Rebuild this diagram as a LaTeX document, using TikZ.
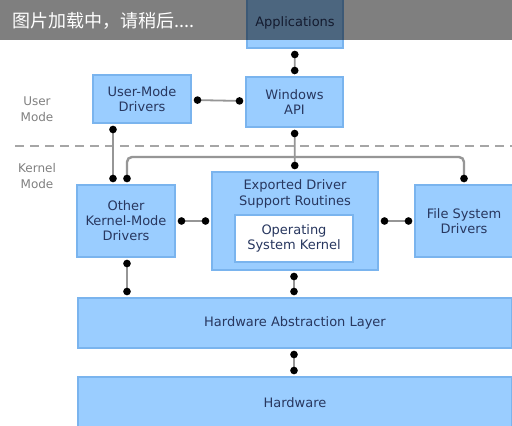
\documentclass[tikz,border=0pt]{standalone}
\usepackage{fontspec}
\setmainfont{DejaVu Sans}
\newfontfamily\cjk{Noto Sans CJK SC}
\usetikzlibrary{arrows.meta}

\definecolor{boxfill}{RGB}{154,205,255}
\definecolor{boxline}{RGB}{122,180,238}
\definecolor{boxtext}{RGB}{40,55,95}
\definecolor{wire}{RGB}{150,150,150}

\tikzset{
  layer/.style={draw=boxline, line width=1.5pt, fill=boxfill, text=boxtext,
    align=center, font=\fontsize{13}{15}\selectfont, inner sep=0pt},
  kernelbox/.style={layer, fill=white},
  modelabel/.style={text=gray, align=center, font=\fontsize{12}{16}\selectfont},
  link/.style={wire, line width=1.8pt, {Circle[length=7.5pt,black]}-{Circle[length=7.5pt,black]},
    shorten <=2pt, shorten >=2pt},
  bus/.style={wire, line width=2.4pt, rounded corners=5pt, -{Circle[length=7.5pt,black]}, shorten >=2pt}
}

\begin{document}
\begin{tikzpicture}[x=1pt,y=-1pt]
\clip (0,0) rectangle (512,426);
\fill[white] (0,0) rectangle (512,426);

% user mode
\node[layer, minimum width=96pt, minimum height=50pt] (apps) at (295,23) {Applications};
\node[layer, minimum width=98pt, minimum height=48pt] (umd) at (142,99) {User-Mode\\Drivers};
\node[layer, minimum width=97pt, minimum height=50pt] (winapi) at (294.5,102) {Windows\\API};
\node[modelabel] (usermode) at (37,109) {User\\Mode};

% boundary
\draw[gray!70, line width=2.5pt, dash pattern=on 9pt off 6pt] (15,146) -- (512,146);
\node[modelabel] (kernelmode) at (37,176) {Kernel\\Mode};

% kernel mode
\node[layer, minimum width=98pt, minimum height=72pt] (other) at (126,221) {Other\\Kernel-Mode\\Drivers};
\node[layer, minimum width=166pt, minimum height=98pt,
  label={[anchor=north, text=boxtext, align=center, font=\fontsize{13}{16}\selectfont, yshift=-5pt]north:Exported Driver\\Support Routines}] (exported) at (295,221) {};
\node[kernelbox, minimum width=118pt, minimum height=47pt] (oskernel) at (294,238.5) {Operating\\System Kernel};
\node[layer, minimum width=98pt, minimum height=72pt] (fsd) at (464,221) {File System\\Drivers};

\node[layer, minimum width=434pt, minimum height=50pt] (hal) at (295,323) {Hardware Abstraction Layer};
\node[layer, minimum width=434pt, minimum height=52pt] (hw) at (295,403) {Hardware};

% connectors
\coordinate (busmid) at (winapi.south |- 0,157);
\draw[bus] (busmid) -| (other.north -| 127,0);
\draw[bus] (busmid) -| (fsd.north);
\draw[link] (apps) -- (winapi);
\draw[link] (umd) -- (winapi);
\draw[link] (umd.south -| 113,0) -- (other.north -| 113,0);
\draw[link] (winapi) -- (exported);
\draw[link] (other) -- (exported);
\draw[link] (exported) -- (fsd);
\draw[link] (other.south -| 127,0) -- (hal.north -| 127,0);
\draw[link] (exported.south -| 294,0) -- (hal.north -| 294,0);
\draw[link] (hal.south -| 294,0) -- (hw.north -| 294,0);

% loading banner
\fill[black, opacity=0.5] (0,0) rectangle (512,40);
\node[anchor=west, text=white, font=\cjk\fontsize{18}{18}\selectfont, inner sep=0pt] (banner) at (12,21) {图片加载中，请稍后....};
\end{tikzpicture}
\end{document}
